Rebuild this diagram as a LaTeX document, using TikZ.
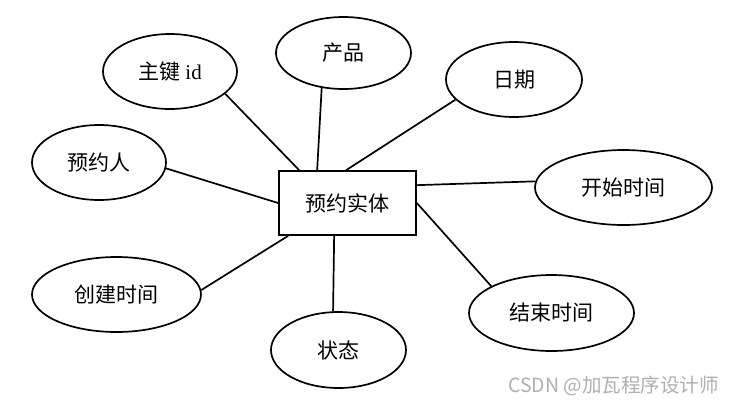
\documentclass[tikz,border=0pt]{standalone}
\usepackage{fontspec}
\setmainfont{Liberation Serif}
\newfontfamily\cjk{Noto Sans CJK SC}
\usetikzlibrary{shapes.geometric}
\definecolor{wmgray}{RGB}{175,175,175}
\begin{document}
\begin{tikzpicture}[x=1pt,y=-1pt,
  attr/.style={ellipse,draw,line width=1.7pt,inner sep=0pt,minimum height=75pt,font=\fontsize{21}{25}\selectfont\cjk},
  ent/.style={rectangle,draw,line width=1.7pt,inner sep=0pt,minimum width=137pt,minimum height=64pt,font=\fontsize{21}{25}\selectfont\cjk},
  link/.style={line width=1.7pt}]
\useasboundingbox (0,0) rectangle (735,405);
\node[ent] (e) at (347.5,203) {预约实体};
\node[attr,minimum width=134pt] (k) at (170,71.5) {主键{\rmfamily\ id}};
\node[attr,minimum width=135pt,minimum height=72pt] (p) at (343.5,53) {产品};
\node[attr,minimum width=136pt] (d) at (514,79.5) {日期};
\node[attr,minimum width=134pt] (r) at (99,162.5) {预约人};
\node[attr,minimum width=177pt] (s) at (623.5,187.5) {开始时间};
\node[attr,minimum width=169pt] (c) at (116.5,294.5) {创建时间};
\node[attr,minimum width=135pt,minimum height=76pt] (z) at (338.5,350) {状态};
\node[attr,minimum width=165pt,minimum height=76pt] (f) at (551.5,313) {结束时间};
\draw[link] (k.-22) -- ([xshift=21pt]e.north west);
\draw[link] (p.-122) -- ([xshift=39pt]e.north west);
\draw[link] (d.-161) -- ([xshift=68pt]e.north west);
\draw[link] (r.-5) -- (e.west);
\draw[link] (s.176) -- ([yshift=-15pt]e.north east);
\draw[link] (c.3) -- ([xshift=10pt]e.south west);
\draw[link] (z.98) -- ([xshift=56pt]e.south west);
\draw[link] (f.156) -- (e.east);
\node[anchor=east,text=wmgray,font=\fontsize{19.5}{23}\selectfont\cjk,inner sep=0pt] (wm) at (719,386) {CSDN @加瓦程序设计师};
\end{tikzpicture}
\end{document}
